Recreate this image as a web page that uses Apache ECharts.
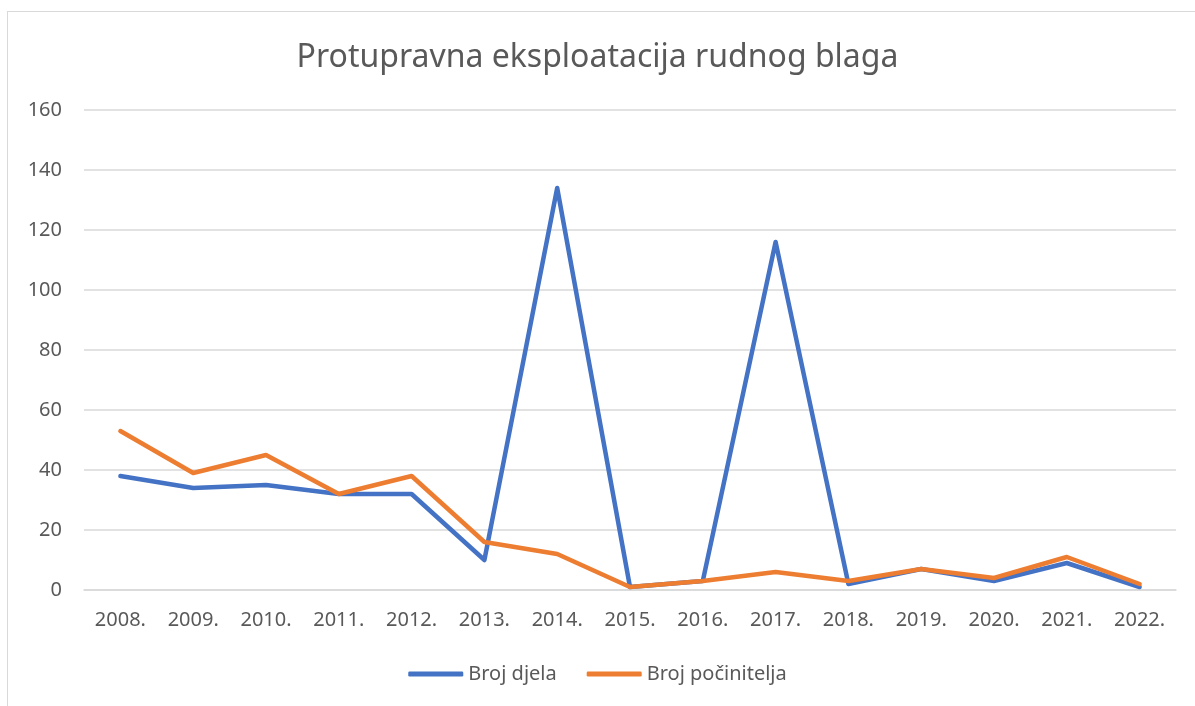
<!DOCTYPE html>
<html><head><meta charset="utf-8">
<script src="https://cdn.jsdelivr.net/npm/echarts@6/dist/echarts.min.js"></script>
<style>
html,body{margin:0;padding:0;background:#fff;}
#frame{position:absolute;left:7px;top:11px;width:1300px;height:800px;border-left:1.5px solid #d9d9d9;border-top:1.5px solid #d9d9d9;}
#c{position:absolute;left:0;top:0;width:1195px;height:706px;}
</style></head>
<body>
<div id="frame"></div>
<div id="c"></div>
<script>
const categories = ['2008.','2009.','2010.','2011.','2012.','2013.','2014.','2015.','2016.','2017.','2018.','2019.','2020.','2021.','2022.'];
const brojDjela = [38,34,35,32,32,10,134,1,3,116,2,7,3,9,1];
const brojPocinitelja = [53,39,45,32,38,16,12,1,3,6,3,7,4,11,2];
const seriesNames = ['Broj djela','Broj počinitelja'];
const titleText = 'Protupravna eksploatacija rudnog blaga';

const font = 'Noto Sans';
const chart = echarts.init(document.getElementById('c'));
chart.setOption({
  animation:false,
  title:{text:titleText,left:'center',top:37,textStyle:{fontFamily:font,fontSize:32,fontWeight:'normal',color:'#595959'}},
  legend:{bottom:17,left:'center',itemWidth:55,itemHeight:5,itemGap:30,icon:'roundRect',
    textStyle:{fontFamily:font,fontSize:20,color:'#595959'},data:seriesNames},
  grid:{left:84,right:19,top:110,bottom:116,containLabel:false},
  xAxis:{type:'category',data:categories,boundaryGap:true,
    axisLine:{lineStyle:{color:'#d9d9d9',width:1.5}},axisTick:{show:false},
    axisLabel:{fontFamily:font,fontSize:20,color:'#595959',margin:20}},
  yAxis:{type:'value',min:0,max:160,interval:20,
    axisLine:{show:false},axisTick:{show:false},
    splitLine:{lineStyle:{color:'#d9d9d9',width:1.5}},
    axisLabel:{fontFamily:font,fontSize:20,color:'#595959',margin:22}},
  series:[
    {name:seriesNames[0],type:'line',data:brojDjela,symbol:'none',lineStyle:{width:4.5,color:'#4472C4',cap:'round',join:'round'},itemStyle:{color:'#4472C4'}},
    {name:seriesNames[1],type:'line',data:brojPocinitelja,symbol:'none',lineStyle:{width:4.5,color:'#ED7D31',cap:'round',join:'round'},itemStyle:{color:'#ED7D31'}}
  ]
});
</script>
</body></html>
